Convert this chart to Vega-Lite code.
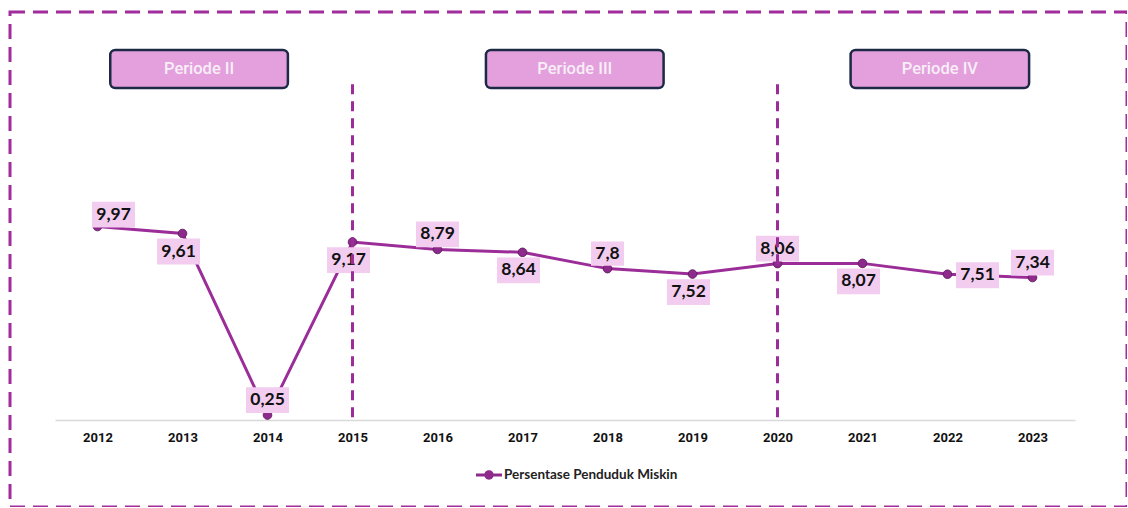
{
  "$schema": "https://vega.github.io/schema/vega-lite/v6.json",
  "width": 1117,
  "height": 495,
  "autosize": {"type": "none"},
  "padding": {"left": 10, "top": 12, "right": 0, "bottom": 0},
  "background": "white",
  "config": {
    "view": {"stroke": "#a12d9d", "strokeWidth": 3, "strokeDash": [15, 8]},
    "font": "Lato"
  },
  "datasets": {
    "kemiskinan": [
      {"tahun": 2012, "nilai": 9.97, "label": "9,97", "posisi": "atas-kanan"},
      {"tahun": 2013, "nilai": 9.61, "label": "9,61", "posisi": "bawah"},
      {"tahun": 2014, "nilai": 0.25, "label": "0,25", "posisi": "atas"},
      {"tahun": 2015, "nilai": 9.17, "label": "9,17", "posisi": "bawah"},
      {"tahun": 2016, "nilai": 8.79, "label": "8,79", "posisi": "atas"},
      {"tahun": 2017, "nilai": 8.64, "label": "8,64", "posisi": "bawah"},
      {"tahun": 2018, "nilai": 7.8, "label": "7,8", "posisi": "atas"},
      {"tahun": 2019, "nilai": 7.52, "label": "7,52", "posisi": "bawah"},
      {"tahun": 2020, "nilai": 8.06, "label": "8,06", "posisi": "atas"},
      {"tahun": 2021, "nilai": 8.07, "label": "8,07", "posisi": "bawah"},
      {"tahun": 2022, "nilai": 7.51, "label": "7,51", "posisi": "kanan"},
      {"tahun": 2023, "nilai": 7.34, "label": "7,34", "posisi": "atas"}
    ],
    "periode": [
      {"periode": "Periode II", "awal": 2012.15, "akhir": 2014.24, "tengah": 2013.195},
      {"periode": "Periode III", "awal": 2016.57, "akhir": 2018.66, "tengah": 2017.615},
      {"periode": "Periode IV", "awal": 2020.86, "akhir": 2022.96, "tengah": 2021.91}
    ],
    "batas": [
      {"tahun": 2015},
      {"tahun": 2020}
    ]
  },
  "layer": [
    {
      "data": {"name": "periode"},
      "mark": {"type": "rect", "fill": "#e3a0dc", "stroke": "#1d2946", "strokeWidth": 2.5, "cornerRadius": 5},
      "encoding": {
        "x": {"field": "awal", "type": "quantitative", "title": null, "scale": {"domain": [2011.5, 2023.5], "range": [45, 1065], "nice": false, "zero": false}},
        "x2": {"field": "akhir"},
        "y": {"datum": 19.07, "type": "quantitative", "axis": null, "scale": {"domain": [-4.49, 21.03], "nice": false, "zero": false}},
        "y2": {"datum": 17.11}
      }
    },
    {
      "data": {"name": "periode"},
      "mark": {"type": "text", "font": "Roboto", "fontWeight": 500, "fontSize": 16.5, "color": "#f8eef7", "align": "center", "baseline": "middle"},
      "encoding": {
        "x": {"field": "tengah", "type": "quantitative", "title": null, "scale": {"domain": [2011.5, 2023.5], "range": [45, 1065], "nice": false, "zero": false}},
        "y": {"datum": 18.1, "type": "quantitative", "axis": null, "scale": {"domain": [-4.49, 21.03], "nice": false, "zero": false}},
        "text": {"field": "periode"}
      }
    },
    {
      "data": {"name": "kemiskinan"},
      "mark": {"type": "line", "stroke": "#9b2d99", "strokeWidth": 3},
      "encoding": {
        "x": {
          "field": "tahun", "type": "quantitative", "title": null,
          "scale": {"domain": [2011.5, 2023.5], "range": [45, 1065], "nice": false, "zero": false},
          "axis": {
            "values": [2012, 2013, 2014, 2015, 2016, 2017, 2018, 2019, 2020, 2021, 2022, 2023],
            "format": "d", "grid": false, "ticks": false, "labelFlush": false,
            "domainColor": "#d9d9d9", "domainWidth": 1.5, "offset": -87,
            "labelFont": "Roboto", "labelFontWeight": "bold", "labelFontSize": 13, "labelColor": "#111111", "labelPadding": 11
          }
        },
        "y": {"field": "nilai", "type": "quantitative", "axis": null, "scale": {"domain": [-4.49, 21.03], "nice": false, "zero": false}}
      }
    },
    {
      "data": {"name": "kemiskinan"},
      "mark": {"type": "point", "filled": true, "opacity": 1, "size": 75, "shape": "circle", "stroke": "#5a1458", "strokeWidth": 0.8},
      "encoding": {
        "x": {"field": "tahun", "type": "quantitative", "title": null, "scale": {"domain": [2011.5, 2023.5], "range": [45, 1065], "nice": false, "zero": false}},
        "y": {"field": "nilai", "type": "quantitative", "axis": null, "scale": {"domain": [-4.49, 21.03], "nice": false, "zero": false}},
        "color": {
          "datum": "Persentase Penduduk Miskin",
          "scale": {"range": ["#8e2a8b"]},
          "legend": {
            "orient": "none", "legendX": 466, "legendY": 450, "title": null,
            "symbolType": "M-1,-0.12H1V0.12H-1Z M0.36,0A0.36,0.36 0 1 1 -0.36,0A0.36,0.36 0 1 1 0.36,0Z",
            "symbolSize": 676, "symbolStrokeWidth": 0, "symbolOpacity": 1,
            "labelFont": "Lato", "labelFontWeight": "bold", "labelFontSize": 13.5, "labelColor": "#222222", "labelOffset": 2, "labelLimit": 400
          }
        }
      }
    },
    {
      "data": {"name": "kemiskinan"},
      "transform": [{"filter": "datum.posisi === 'atas'"}],
      "layer": [
        {
          "mark": {"type": "point", "filled": true, "opacity": 1, "fill": "#f2cdef", "strokeWidth": 0, "yOffset": -15},
          "encoding": {
            "x": {"field": "tahun", "type": "quantitative", "title": null, "scale": {"domain": [2011.5, 2023.5], "range": [45, 1065], "nice": false, "zero": false}},
            "y": {"field": "nilai", "type": "quantitative", "axis": null, "scale": {"domain": [-4.49, 21.03], "nice": false, "zero": false}},
            "shape": {"condition": {"test": "length(datum.label) < 4", "value": "M-1,-0.73H1V0.73H-1Z"}, "value": "M-1,-0.6H1V0.6H-1Z"},
            "size": {"condition": {"test": "length(datum.label) < 4", "value": 1089}, "value": 1849}
          }
        },
        {
          "mark": {"type": "text", "font": "Lato", "fontWeight": "bold", "fontSize": 17.5, "color": "#111111", "align": "center", "baseline": "middle", "yOffset": -15},
          "encoding": {
            "x": {"field": "tahun", "type": "quantitative", "title": null, "scale": {"domain": [2011.5, 2023.5], "range": [45, 1065], "nice": false, "zero": false}},
            "y": {"field": "nilai", "type": "quantitative", "axis": null, "scale": {"domain": [-4.49, 21.03], "nice": false, "zero": false}},
            "text": {"field": "label"}
          }
        }
      ]
    },
    {
      "data": {"name": "kemiskinan"},
      "transform": [{"filter": "datum.posisi === 'bawah'"}],
      "layer": [
        {
          "mark": {"type": "point", "filled": true, "opacity": 1, "fill": "#f2cdef", "strokeWidth": 0, "xOffset": -4, "yOffset": 18, "shape": "M-1,-0.6H1V0.6H-1Z", "size": 1849},
          "encoding": {
            "x": {"field": "tahun", "type": "quantitative", "title": null, "scale": {"domain": [2011.5, 2023.5], "range": [45, 1065], "nice": false, "zero": false}},
            "y": {"field": "nilai", "type": "quantitative", "axis": null, "scale": {"domain": [-4.49, 21.03], "nice": false, "zero": false}}
          }
        },
        {
          "mark": {"type": "text", "font": "Lato", "fontWeight": "bold", "fontSize": 17.5, "color": "#111111", "align": "center", "baseline": "middle", "xOffset": -4, "yOffset": 18},
          "encoding": {
            "x": {"field": "tahun", "type": "quantitative", "title": null, "scale": {"domain": [2011.5, 2023.5], "range": [45, 1065], "nice": false, "zero": false}},
            "y": {"field": "nilai", "type": "quantitative", "axis": null, "scale": {"domain": [-4.49, 21.03], "nice": false, "zero": false}},
            "text": {"field": "label"}
          }
        }
      ]
    },
    {
      "data": {"name": "kemiskinan"},
      "transform": [{"filter": "datum.posisi === 'kanan'"}],
      "layer": [
        {
          "mark": {"type": "point", "filled": true, "opacity": 1, "fill": "#f2cdef", "strokeWidth": 0, "xOffset": 30, "yOffset": 1, "shape": "M-1,-0.6H1V0.6H-1Z", "size": 1849},
          "encoding": {
            "x": {"field": "tahun", "type": "quantitative", "title": null, "scale": {"domain": [2011.5, 2023.5], "range": [45, 1065], "nice": false, "zero": false}},
            "y": {"field": "nilai", "type": "quantitative", "axis": null, "scale": {"domain": [-4.49, 21.03], "nice": false, "zero": false}}
          }
        },
        {
          "mark": {"type": "text", "font": "Lato", "fontWeight": "bold", "fontSize": 17.5, "color": "#111111", "align": "center", "baseline": "middle", "xOffset": 30, "yOffset": 1},
          "encoding": {
            "x": {"field": "tahun", "type": "quantitative", "title": null, "scale": {"domain": [2011.5, 2023.5], "range": [45, 1065], "nice": false, "zero": false}},
            "y": {"field": "nilai", "type": "quantitative", "axis": null, "scale": {"domain": [-4.49, 21.03], "nice": false, "zero": false}},
            "text": {"field": "label"}
          }
        }
      ]
    },
    {
      "data": {"name": "kemiskinan"},
      "transform": [{"filter": "datum.posisi === 'atas-kanan'"}],
      "layer": [
        {
          "mark": {"type": "point", "filled": true, "opacity": 1, "fill": "#f2cdef", "strokeWidth": 0, "xOffset": 16, "yOffset": -12, "shape": "M-1,-0.6H1V0.6H-1Z", "size": 1849},
          "encoding": {
            "x": {"field": "tahun", "type": "quantitative", "title": null, "scale": {"domain": [2011.5, 2023.5], "range": [45, 1065], "nice": false, "zero": false}},
            "y": {"field": "nilai", "type": "quantitative", "axis": null, "scale": {"domain": [-4.49, 21.03], "nice": false, "zero": false}}
          }
        },
        {
          "mark": {"type": "text", "font": "Lato", "fontWeight": "bold", "fontSize": 17.5, "color": "#111111", "align": "center", "baseline": "middle", "xOffset": 16, "yOffset": -12},
          "encoding": {
            "x": {"field": "tahun", "type": "quantitative", "title": null, "scale": {"domain": [2011.5, 2023.5], "range": [45, 1065], "nice": false, "zero": false}},
            "y": {"field": "nilai", "type": "quantitative", "axis": null, "scale": {"domain": [-4.49, 21.03], "nice": false, "zero": false}},
            "text": {"field": "label"}
          }
        }
      ]
    },
    {
      "data": {"name": "batas"},
      "mark": {"type": "rule", "stroke": "#9b2d99", "strokeWidth": 3, "strokeDash": [10, 7]},
      "encoding": {
        "x": {"field": "tahun", "type": "quantitative", "title": null, "scale": {"domain": [2011.5, 2023.5], "range": [45, 1065], "nice": false, "zero": false}},
        "y": {"datum": 17.3, "type": "quantitative", "axis": null, "scale": {"domain": [-4.49, 21.03], "nice": false, "zero": false}},
        "y2": {"datum": 0}
      }
    }
  ]
}
